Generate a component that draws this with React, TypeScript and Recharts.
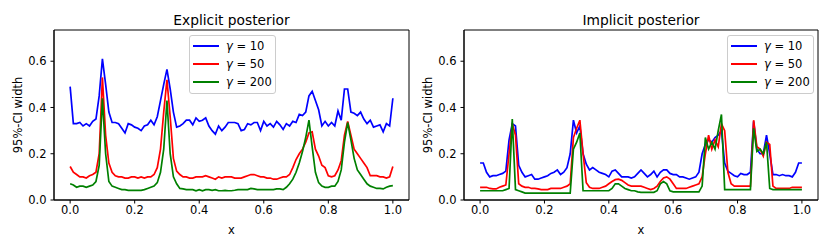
import { LineChart, Line, XAxis, YAxis, ReferenceArea } from 'recharts';

// x grid (0 .. 1, step 0.01)
const xs = [
    0, 0.01, 0.02, 0.03, 0.04, 0.05, 0.06, 0.07, 0.08, 0.09,
    0.1, 0.11, 0.12, 0.13, 0.14, 0.15, 0.16, 0.17, 0.18, 0.19,
    0.2, 0.21, 0.22, 0.23, 0.24, 0.25, 0.26, 0.27, 0.28, 0.29,
    0.3, 0.31, 0.32, 0.33, 0.34, 0.35, 0.36, 0.37, 0.38, 0.39,
    0.4, 0.41, 0.42, 0.43, 0.44, 0.45, 0.46, 0.47, 0.48, 0.49,
    0.5, 0.51, 0.52, 0.53, 0.54, 0.55, 0.56, 0.57, 0.58, 0.59,
    0.6, 0.61, 0.62, 0.63, 0.64, 0.65, 0.66, 0.67, 0.68, 0.69,
    0.7, 0.71, 0.72, 0.73, 0.74, 0.75, 0.76, 0.77, 0.78, 0.79,
    0.8, 0.81, 0.82, 0.83, 0.84, 0.85, 0.86, 0.87, 0.88, 0.89,
    0.9, 0.91, 0.92, 0.93, 0.94, 0.95, 0.96, 0.97, 0.98, 0.99,
    1.0,
];

const xTicks = [0, 0.2, 0.4, 0.6, 0.8, 1.0];
const yTicks = [0, 0.2, 0.4, 0.6];
const seriesLabels = ['10', '50', '200'];
const seriesColors = ['#0000ff', '#ff0000', '#008000'];

// Explicit posterior
const explicitG10 = [
    0.49, 0.33, 0.33, 0.335, 0.32, 0.33, 0.32, 0.34, 0.35, 0.45,
    0.61, 0.5, 0.38, 0.335, 0.335, 0.33, 0.31, 0.29, 0.33, 0.325,
    0.315, 0.31, 0.3, 0.32, 0.325, 0.345, 0.325, 0.36, 0.43, 0.5,
    0.565, 0.48, 0.38, 0.315, 0.32, 0.33, 0.345, 0.345, 0.325, 0.355,
    0.34, 0.345, 0.355, 0.32, 0.3, 0.285, 0.32, 0.3, 0.315, 0.335,
    0.335, 0.335, 0.33, 0.3, 0.305, 0.33, 0.325, 0.335, 0.335, 0.3,
    0.34, 0.32, 0.33, 0.315, 0.34, 0.325, 0.305, 0.33, 0.32, 0.34,
    0.335, 0.37, 0.365, 0.38, 0.45, 0.47, 0.43, 0.39, 0.32, 0.34,
    0.32, 0.335, 0.32, 0.385, 0.345, 0.48, 0.48, 0.38, 0.375, 0.365,
    0.38, 0.35, 0.33, 0.345, 0.315, 0.32, 0.325, 0.295, 0.33, 0.32,
    0.44,
];
const explicitG50 = [
    0.145, 0.12, 0.11, 0.1, 0.1, 0.095, 0.105, 0.11, 0.12, 0.2,
    0.53, 0.28, 0.16, 0.12, 0.105, 0.1, 0.1, 0.095, 0.095, 0.1,
    0.1, 0.095, 0.1, 0.095, 0.1, 0.1, 0.11, 0.14, 0.22, 0.38,
    0.52, 0.36, 0.18, 0.125, 0.11, 0.1, 0.1, 0.095, 0.095, 0.1,
    0.1, 0.1, 0.105, 0.1, 0.095, 0.09, 0.1, 0.095, 0.1, 0.1,
    0.1, 0.095, 0.095, 0.095, 0.1, 0.105, 0.11, 0.11, 0.105, 0.1,
    0.1, 0.095, 0.095, 0.09, 0.09, 0.095, 0.1, 0.1, 0.11, 0.14,
    0.175, 0.2, 0.22, 0.25, 0.29, 0.295, 0.22, 0.19, 0.15, 0.14,
    0.105, 0.1, 0.105, 0.13, 0.17, 0.28, 0.34, 0.28, 0.22, 0.2,
    0.18, 0.16, 0.14, 0.105, 0.105, 0.105, 0.1, 0.1, 0.095, 0.1,
    0.145,
];
const explicitG200 = [
    0.07, 0.065, 0.055, 0.06, 0.06, 0.055, 0.06, 0.065, 0.08, 0.15,
    0.44, 0.2, 0.08, 0.06, 0.055, 0.05, 0.045, 0.045, 0.042, 0.042,
    0.042, 0.042, 0.042, 0.045, 0.05, 0.055, 0.06, 0.075, 0.12, 0.22,
    0.43, 0.2, 0.1, 0.07, 0.05, 0.048, 0.045, 0.045, 0.045, 0.04,
    0.045, 0.04, 0.045, 0.045, 0.042, 0.045, 0.04, 0.04, 0.042, 0.04,
    0.04, 0.042, 0.045, 0.045, 0.045, 0.045, 0.05, 0.048, 0.045, 0.045,
    0.045, 0.045, 0.045, 0.045, 0.048, 0.048, 0.045, 0.055, 0.07, 0.09,
    0.12, 0.16, 0.21, 0.27, 0.345, 0.23, 0.12, 0.075, 0.06, 0.055,
    0.055, 0.06, 0.06, 0.08, 0.13, 0.25, 0.335, 0.26, 0.18, 0.13,
    0.11, 0.09, 0.07, 0.06, 0.055, 0.05, 0.05, 0.048, 0.055, 0.06,
    0.062,
];

// Implicit posterior
const implicitG10 = [
    0.16, 0.16, 0.12, 0.1, 0.105, 0.105, 0.11, 0.115, 0.125, 0.26,
    0.33, 0.32, 0.15, 0.12, 0.1, 0.105, 0.11, 0.09, 0.09, 0.095,
    0.1, 0.105, 0.115, 0.12, 0.13, 0.11, 0.12, 0.14, 0.2, 0.345,
    0.29, 0.32, 0.2, 0.155, 0.13, 0.14, 0.13, 0.12, 0.115, 0.11,
    0.1, 0.125, 0.13, 0.115, 0.1, 0.1, 0.1, 0.095, 0.1, 0.115,
    0.13, 0.115, 0.1, 0.11, 0.125, 0.1, 0.12, 0.13, 0.13, 0.115,
    0.11, 0.11, 0.1, 0.1, 0.095, 0.09, 0.095, 0.1, 0.12, 0.2,
    0.24, 0.26, 0.25, 0.27, 0.28, 0.3, 0.16, 0.125, 0.115, 0.105,
    0.1, 0.115, 0.11, 0.11, 0.12, 0.34, 0.22, 0.2, 0.2, 0.28,
    0.2, 0.11, 0.11, 0.105, 0.11, 0.105, 0.105, 0.1, 0.12, 0.16,
    0.16,
];
const implicitG50 = [
    0.055, 0.055, 0.055, 0.05, 0.048, 0.048, 0.055, 0.06, 0.065, 0.2,
    0.33, 0.28, 0.07, 0.06, 0.055, 0.055, 0.05, 0.05, 0.048, 0.045,
    0.045, 0.045, 0.05, 0.05, 0.05, 0.05, 0.055, 0.06, 0.07, 0.27,
    0.31, 0.345, 0.2, 0.075, 0.055, 0.05, 0.05, 0.05, 0.055, 0.06,
    0.07, 0.08, 0.088, 0.09, 0.085, 0.075, 0.065, 0.06, 0.06, 0.06,
    0.06, 0.055, 0.05, 0.045, 0.05, 0.06, 0.08, 0.095, 0.1, 0.09,
    0.07, 0.05, 0.05, 0.05, 0.05, 0.055, 0.06, 0.065, 0.07, 0.1,
    0.2, 0.28, 0.22, 0.26, 0.23, 0.33, 0.3, 0.12, 0.07, 0.06,
    0.06, 0.06, 0.06, 0.06, 0.06, 0.345, 0.23, 0.22, 0.19, 0.25,
    0.24, 0.06, 0.05, 0.05, 0.05, 0.05, 0.05, 0.055, 0.055, 0.055,
    0.055,
];
const implicitG200 = [
    0.04, 0.04, 0.04, 0.04, 0.04, 0.04, 0.04, 0.04, 0.045, 0.05,
    0.35, 0.045, 0.04, 0.035, 0.03, 0.03, 0.03, 0.03, 0.03, 0.03,
    0.03, 0.03, 0.03, 0.03, 0.03, 0.03, 0.03, 0.03, 0.03, 0.22,
    0.25, 0.29, 0.04, 0.04, 0.04, 0.04, 0.04, 0.04, 0.04, 0.04,
    0.04, 0.05, 0.07, 0.07, 0.06, 0.05, 0.045, 0.04, 0.04, 0.035,
    0.033, 0.033, 0.033, 0.033, 0.033, 0.04, 0.07, 0.08, 0.07, 0.04,
    0.035, 0.035, 0.035, 0.035, 0.035, 0.035, 0.035, 0.035, 0.035, 0.06,
    0.27, 0.22, 0.25, 0.22, 0.3, 0.37, 0.045, 0.045, 0.045, 0.045,
    0.045, 0.045, 0.045, 0.045, 0.045, 0.31, 0.21, 0.22, 0.2, 0.25,
    0.05, 0.045, 0.045, 0.045, 0.045, 0.045, 0.045, 0.045, 0.045, 0.045,
    0.045,
];

const buildRows = (a: number[], b: number[], c: number[]) =>
    xs.map((x, i) => ({ x, s0: a[i], s1: b[i], s2: c[i] }));

const FONT = '"DejaVu Sans", sans-serif';
const TICK_FS = 11.5;

interface PanelProps {
    title: string;
    data: { x: number; s0: number; s1: number; s2: number }[];
    left: number;
    plotLeft: number;
    plotRight: number;
    yLabelX: number;
    legendLeft: number;
}

const Panel = ({ title, data, left, plotLeft, plotRight, yLabelX, legendLeft }: PanelProps) => {
    const W = 415;
    const H = 249;
    const yAxisW = 40;
    return (
        <div style={{ position: 'absolute', left, top: 0, width: W, height: H }}>
            <LineChart
                width={W}
                height={H}
                data={data}
                margin={{ top: 30, right: W - plotRight, bottom: 9, left: plotLeft - yAxisW }}
            >
                <XAxis
                    dataKey="x"
                    type="number"
                    domain={[-0.05, 1.05]}
                    ticks={xTicks}
                    allowDataOverflow
                    height={40}
                    tickSize={3.5}
                    tickMargin={2.5}
                    tickFormatter={(v: number) => v.toFixed(1)}
                    stroke="#000"
                    tick={{ fill: '#000', fontSize: TICK_FS, fontFamily: FONT }}
                />
                <YAxis
                    type="number"
                    domain={[0, 0.735]}
                    ticks={yTicks}
                    allowDataOverflow
                    width={yAxisW}
                    tickSize={3.5}
                    tickMargin={4}
                    tickFormatter={(v: number) => v.toFixed(1)}
                    stroke="#000"
                    tick={{ fill: '#000', fontSize: TICK_FS, fontFamily: FONT }}
                />
                <ReferenceArea
                    x1={-0.05}
                    x2={1.05}
                    y1={0}
                    y2={0.735}
                    fill="none"
                    stroke="#000"
                    strokeWidth={1}
                    fillOpacity={0}
                />
                {['s0', 's1', 's2'].map((k, i) => (
                    <Line
                        key={k}
                        type="linear"
                        dataKey={k}
                        stroke={seriesColors[i]}
                        strokeWidth={1.7}
                        dot={false}
                        isAnimationActive={false}
                    />
                ))}
            </LineChart>

            <div style={{
                position: 'absolute', left: plotLeft, width: plotRight - plotLeft, top: 11,
                lineHeight: '18px', textAlign: 'center', fontSize: 13.8, fontFamily: FONT,
            }}>
                {title}
            </div>

            <div style={{
                position: 'absolute', left: yLabelX, top: 115, fontSize: TICK_FS, fontFamily: FONT,
                whiteSpace: 'nowrap', transform: 'translate(-50%, -50%) rotate(-90deg)',
            }}>
                95%-CI width
            </div>

            <div style={{
                position: 'absolute', left: plotLeft, width: plotRight - plotLeft, top: 222,
                lineHeight: '16px', textAlign: 'center', fontSize: TICK_FS, fontFamily: FONT,
            }}>
                x
            </div>

            <div style={{
                position: 'absolute', left: legendLeft, top: 35, width: 87, height: 59,
                border: '1px solid #cccccc', borderRadius: 3, background: 'rgba(255,255,255,0.8)',
                boxSizing: 'border-box', fontFamily: FONT, fontSize: TICK_FS,
            }}>
                {seriesLabels.map((lab, i) => (
                    <div key={lab} style={{ position: 'absolute', left: 3, top: 1 + i * 18, height: 18, display: 'flex', alignItems: 'center' }}>
                        <span style={{ display: 'inline-block', width: 26, height: 0, borderTop: `2px solid ${seriesColors[i]}`, marginRight: 7 }} />
                        <span><i>γ</i> = {lab}</span>
                    </div>
                ))}
            </div>
        </div>
    );
};

const App = () => {
    return (
        <div style={{ position: 'absolute', left: 0, top: 0, width: 830, height: 249, background: '#fff' }}>
            <Panel
                title="Explicit posterior"
                data={buildRows(explicitG10, explicitG50, explicitG200)}
                left={0}
                plotLeft={54}
                plotRight={409}
                yLabelX={18}
                legendLeft={189}
            />
            <Panel
                title="Implicit posterior"
                data={buildRows(implicitG10, implicitG50, implicitG200)}
                left={415}
                plotLeft={49}
                plotRight={403}
                yLabelX={13}
                legendLeft={312}
            />
        </div>
    );
};

export default App;
